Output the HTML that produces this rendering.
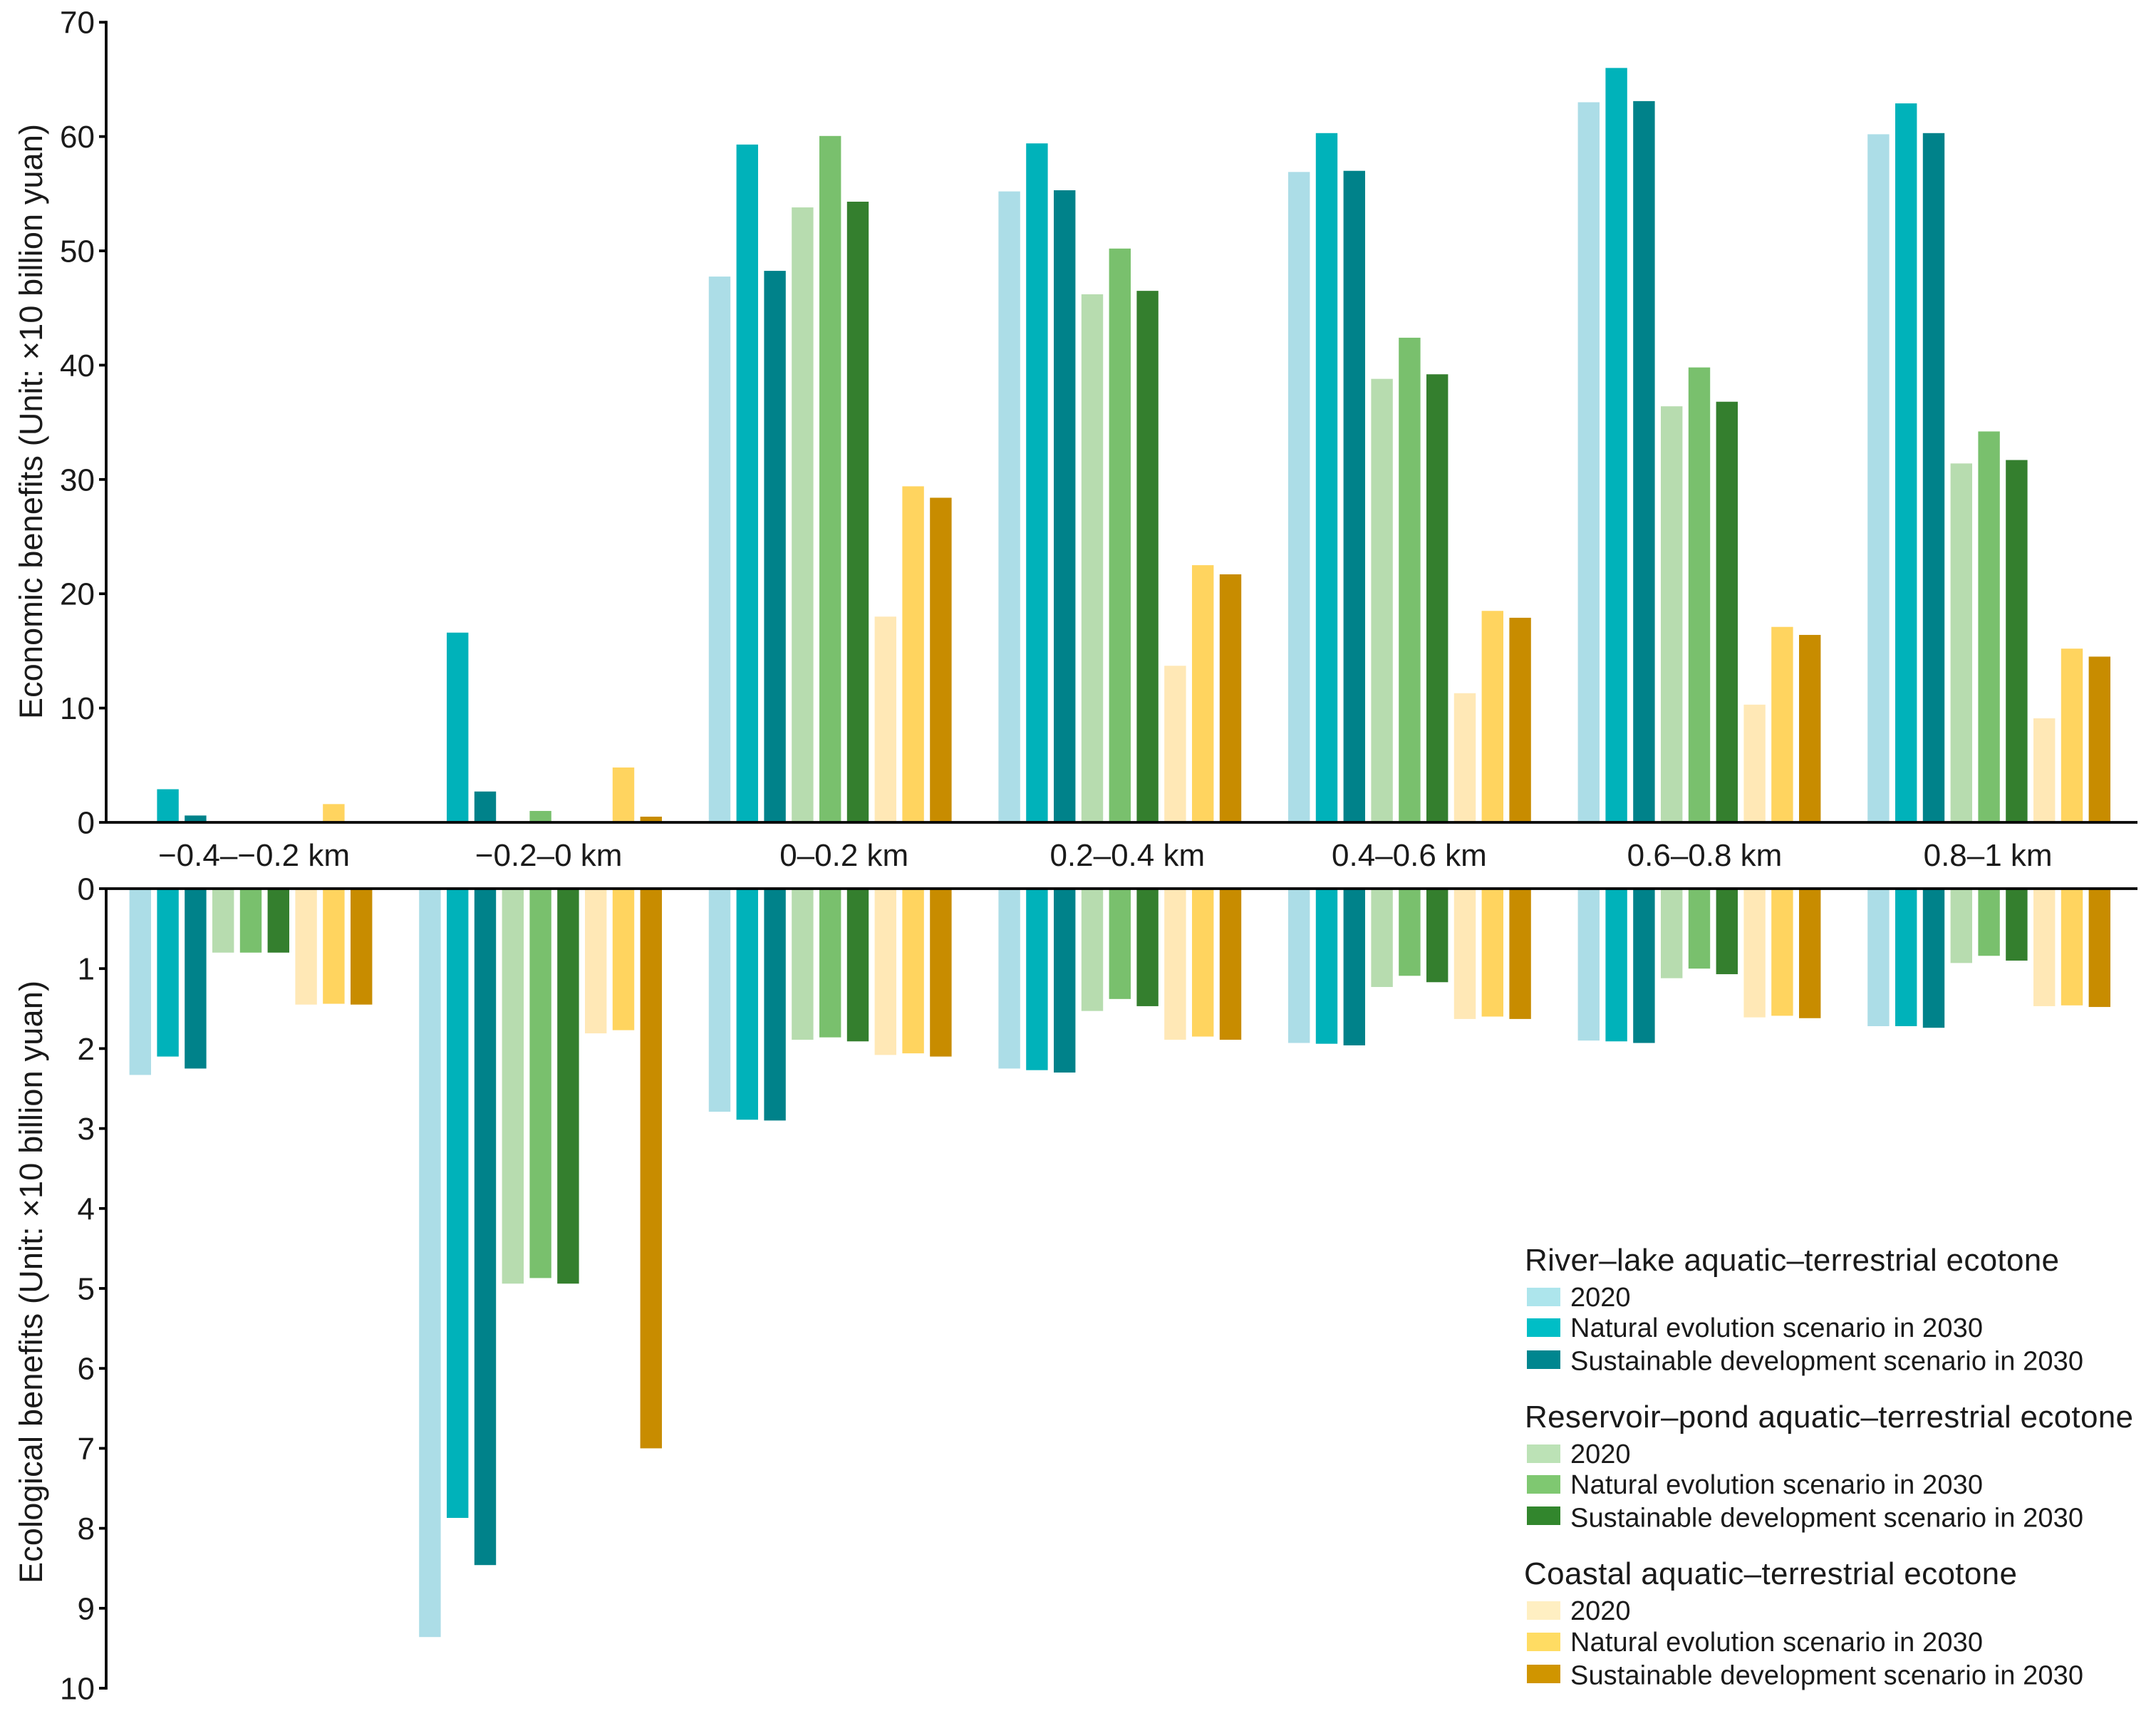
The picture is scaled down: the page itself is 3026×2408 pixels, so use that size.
<!DOCTYPE html>
<html lang="en">
<head>
<meta charset="utf-8">
<title>Economic and ecological benefits by distance band</title>
<style>
html,body{margin:0;padding:0;background:#fff;width:3026px;height:2408px;overflow:hidden}
svg{display:block}
text{font-family:"Liberation Sans",Arial,sans-serif;fill:#1a1a1a}
</style>
</head>
<body>
<svg id="chart" xmlns="http://www.w3.org/2000/svg" width="3026" height="2408" viewBox="0 0 3026 2408">
  <rect x="0" y="0" width="3026" height="2408" fill="#ffffff"/>
  <g id="bars-economic"></g>
  <g id="bars-ecological"></g>
  <g id="axes"></g>
  <g id="category-labels"></g>

  <text transform="translate(59,1009) rotate(-90)" font-size="45" textLength="835" lengthAdjust="spacing">Economic benefits (Unit: ×10 billion yuan)</text>
  <text transform="translate(59,2222) rotate(-90)" font-size="45" textLength="846" lengthAdjust="spacing">Ecological benefits (Unit: ×10 billion yuan)</text>

  <g>
    <g>
      <text x="2140" y="1783" font-size="44" textLength="750" lengthAdjust="spacing">River–lake aquatic–terrestrial ecotone</text>
      <rect x="2143" y="1807" width="47" height="26" fill="#ADE5EC"/>
      <text x="2204" y="1833" font-size="38">2020</text>
      <rect x="2143" y="1850" width="47" height="26" fill="#00BEC6"/>
      <text x="2204" y="1876" font-size="38" textLength="579" lengthAdjust="spacing">Natural evolution scenario in 2030</text>
      <rect x="2143" y="1895" width="47" height="26" fill="#00868F"/>
      <text x="2204" y="1922.5" font-size="38" textLength="720" lengthAdjust="spacing">Sustainable development scenario in 2030</text>
    </g>
    <g>
      <text x="2140" y="2003" font-size="44" textLength="854" lengthAdjust="spacing">Reservoir–pond aquatic–terrestrial ecotone</text>
      <rect x="2143" y="2027" width="47" height="26" fill="#BCE2B6"/>
      <text x="2204" y="2053" font-size="38">2020</text>
      <rect x="2143" y="2070" width="47" height="26" fill="#7FC871"/>
      <text x="2204" y="2096" font-size="38" textLength="579" lengthAdjust="spacing">Natural evolution scenario in 2030</text>
      <rect x="2143" y="2114" width="47" height="26" fill="#32862D"/>
      <text x="2204" y="2142.5" font-size="38" textLength="720" lengthAdjust="spacing">Sustainable development scenario in 2030</text>
    </g>
    <g>
      <text x="2139" y="2223" font-size="44" textLength="692" lengthAdjust="spacing">Coastal aquatic–terrestrial ecotone</text>
      <rect x="2143" y="2247" width="47" height="26" fill="#FFEFC2"/>
      <text x="2204" y="2273" font-size="38">2020</text>
      <rect x="2143" y="2291" width="47" height="26" fill="#FFDC63"/>
      <text x="2204" y="2317" font-size="38" textLength="579" lengthAdjust="spacing">Natural evolution scenario in 2030</text>
      <rect x="2143" y="2336" width="47" height="26" fill="#D09500"/>
      <text x="2204" y="2363.5" font-size="38" textLength="720" lengthAdjust="spacing">Sustainable development scenario in 2030</text>
    </g>
  </g>
</svg>
<script>
const categories = ['−0.4–−0.2 km','−0.2–0 km','0–0.2 km','0.2–0.4 km','0.4–0.6 km','0.6–0.8 km','0.8–1 km'];
const economicTicks = [0,10,20,30,40,50,60,70];
const ecologicalTicks = [0,1,2,3,4,5,6,7,8,9,10];
const seriesNames = ['river-2020','river-natural','river-sustainable','reservoir-2020','reservoir-natural','reservoir-sustainable','coastal-2020','coastal-natural','coastal-sustainable'];

const econRiver2020 = [0,0,47.75,55.2,56.9,63.0,60.2];
const econRiverNatural = [2.9,16.6,59.3,59.4,60.3,66.0,62.9];
const econRiverSustainable = [0.6,2.7,48.25,55.3,57.0,63.1,60.3];
const econReservoir2020 = [0,0,53.8,46.2,38.8,36.4,31.4];
const econReservoirNatural = [0,1.0,60.05,50.2,42.4,39.8,34.2];
const econReservoirSustainable = [0,0,54.3,46.5,39.2,36.8,31.7];
const econCoastal2020 = [0,0,18.0,13.7,11.3,10.3,9.1];
const econCoastalNatural = [1.6,4.8,29.4,22.5,18.5,17.1,15.2];
const econCoastalSustainable = [0,0.5,28.4,21.7,17.9,16.4,14.5];

const ecoRiver2020 = [2.33,9.36,2.79,2.25,1.93,1.90,1.72];
const ecoRiverNatural = [2.10,7.87,2.89,2.27,1.94,1.91,1.72];
const ecoRiverSustainable = [2.25,8.46,2.90,2.30,1.96,1.93,1.74];
const ecoReservoir2020 = [0.80,4.94,1.89,1.53,1.23,1.12,0.93];
const ecoReservoirNatural = [0.80,4.87,1.86,1.38,1.09,1.00,0.84];
const ecoReservoirSustainable = [0.80,4.94,1.91,1.47,1.17,1.07,0.90];
const ecoCoastal2020 = [1.45,1.81,2.08,1.89,1.63,1.61,1.47];
const ecoCoastalNatural = [1.44,1.77,2.06,1.85,1.60,1.59,1.46];
const ecoCoastalSustainable = [1.45,7.00,2.10,1.89,1.63,1.62,1.48];

const economicSeries = [econRiver2020,econRiverNatural,econRiverSustainable,econReservoir2020,econReservoirNatural,econReservoirSustainable,econCoastal2020,econCoastalNatural,econCoastalSustainable];
const ecologicalSeries = [ecoRiver2020,ecoRiverNatural,ecoRiverSustainable,ecoReservoir2020,ecoReservoirNatural,ecoReservoirSustainable,ecoCoastal2020,ecoCoastalNatural,ecoCoastalSustainable];

const barColors = ['#ACDDE7','#00B2BA','#00828A','#B7DCAF','#79C06D','#347F2E','#FFE8B6','#FFD45F','#C88C00'];
const labelNudges = [4.5,11.5,19.5,10.5,-0.5,7.5,-1.5];

const NS = 'http://www.w3.org/2000/svg';
const ECON_ZERO = 1154, ECON_UNIT = 16.04, ECO_ZERO = 1247, ECO_UNIT = 112.2;
const FIRST_BAR = 181.6, GROUP_STEP = 406.6, BAR_STEP = 38.8, BAR_W = 30.4;
const AXIS_X = 149, LINE_W = 3.8, TICK_LEFT = 139, LINE_RIGHT = 3000;

function yEconomic(v){ return ECON_ZERO - ECON_UNIT * v; }
function yEcological(v){ return ECO_ZERO + ECO_UNIT * v; }
function xBar(group, series){ return FIRST_BAR + GROUP_STEP * group + BAR_STEP * series; }
function xGroupCenter(group){ return xBar(group, 0) + (BAR_STEP * 8 + BAR_W) / 2; }

function makeLine(parent, name, x1, y1, x2, y2){
  const el = document.createElementNS(NS, 'line');
  
  
  el.setAttribute('x1', x1);
  el.setAttribute('y1', y1);
  el.setAttribute('x2', x2);
  el.setAttribute('y2', y2);
  el.setAttribute('stroke', '#000');
  el.setAttribute('stroke-width', LINE_W);
  parent.appendChild(el);
}

const economicGroup = document.getElementById('bars-economic');
const ecologicalGroup = document.getElementById('bars-ecological');

economicSeries.forEach(function(values, s){
  values.forEach(function(v, g){
    if (v <= 0) return;
    const bar = document.createElementNS(NS, 'rect');
    
    
    bar.setAttribute('x', xBar(g, s));
    bar.setAttribute('y', yEconomic(v));
    bar.setAttribute('width', BAR_W);
    bar.setAttribute('height', yEconomic(0) - yEconomic(v));
    bar.setAttribute('fill', barColors[s]);
    economicGroup.appendChild(bar);
  });
});

ecologicalSeries.forEach(function(values, s){
  values.forEach(function(v, g){
    if (v <= 0) return;
    const bar = document.createElementNS(NS, 'rect');
    
    
    bar.setAttribute('x', xBar(g, s));
    bar.setAttribute('y', yEcological(0));
    bar.setAttribute('width', BAR_W);
    bar.setAttribute('height', yEcological(v) - yEcological(0));
    bar.setAttribute('fill', barColors[s]);
    ecologicalGroup.appendChild(bar);
  });
});

const axes = document.getElementById('axes');
makeLine(axes, 'economic-y-axis', AXIS_X, yEconomic(70) - LINE_W / 2, AXIS_X, yEconomic(0));
makeLine(axes, 'ecological-y-axis', AXIS_X, yEcological(0), AXIS_X, yEcological(10) + LINE_W / 2);
makeLine(axes, 'economic-baseline', TICK_LEFT, yEconomic(0), LINE_RIGHT, yEconomic(0));
makeLine(axes, 'ecological-baseline', TICK_LEFT, yEcological(0), LINE_RIGHT, yEcological(0));

economicTicks.forEach(function(t){
  if (t !== 0) makeLine(axes, 'economic-tick-' + t, TICK_LEFT, yEconomic(t), AXIS_X, yEconomic(t));
  const label = document.createElementNS(NS, 'text');
  
  
  label.setAttribute('x', 133);
  label.setAttribute('y', yEconomic(t) + 15.5);
  label.setAttribute('font-size', 44);
  label.setAttribute('text-anchor', 'end');
  label.textContent = String(t);
  axes.appendChild(label);
});

ecologicalTicks.forEach(function(t){
  if (t !== 0) makeLine(axes, 'ecological-tick-' + t, TICK_LEFT, yEcological(t), AXIS_X, yEcological(t));
  const label = document.createElementNS(NS, 'text');
  
  
  label.setAttribute('x', 133);
  label.setAttribute('y', yEcological(t) + 15.5);
  label.setAttribute('font-size', 44);
  label.setAttribute('text-anchor', 'end');
  label.textContent = String(t);
  axes.appendChild(label);
});

const labelGroup = document.getElementById('category-labels');
categories.forEach(function(c, g){
  const label = document.createElementNS(NS, 'text');
  
  
  label.setAttribute('x', xGroupCenter(g) + labelNudges[g]);
  label.setAttribute('y', 1215);
  label.setAttribute('font-size', 44);
  label.setAttribute('text-anchor', 'middle');
  label.textContent = c;
  labelGroup.appendChild(label);
});
</script>
</body>
</html>
